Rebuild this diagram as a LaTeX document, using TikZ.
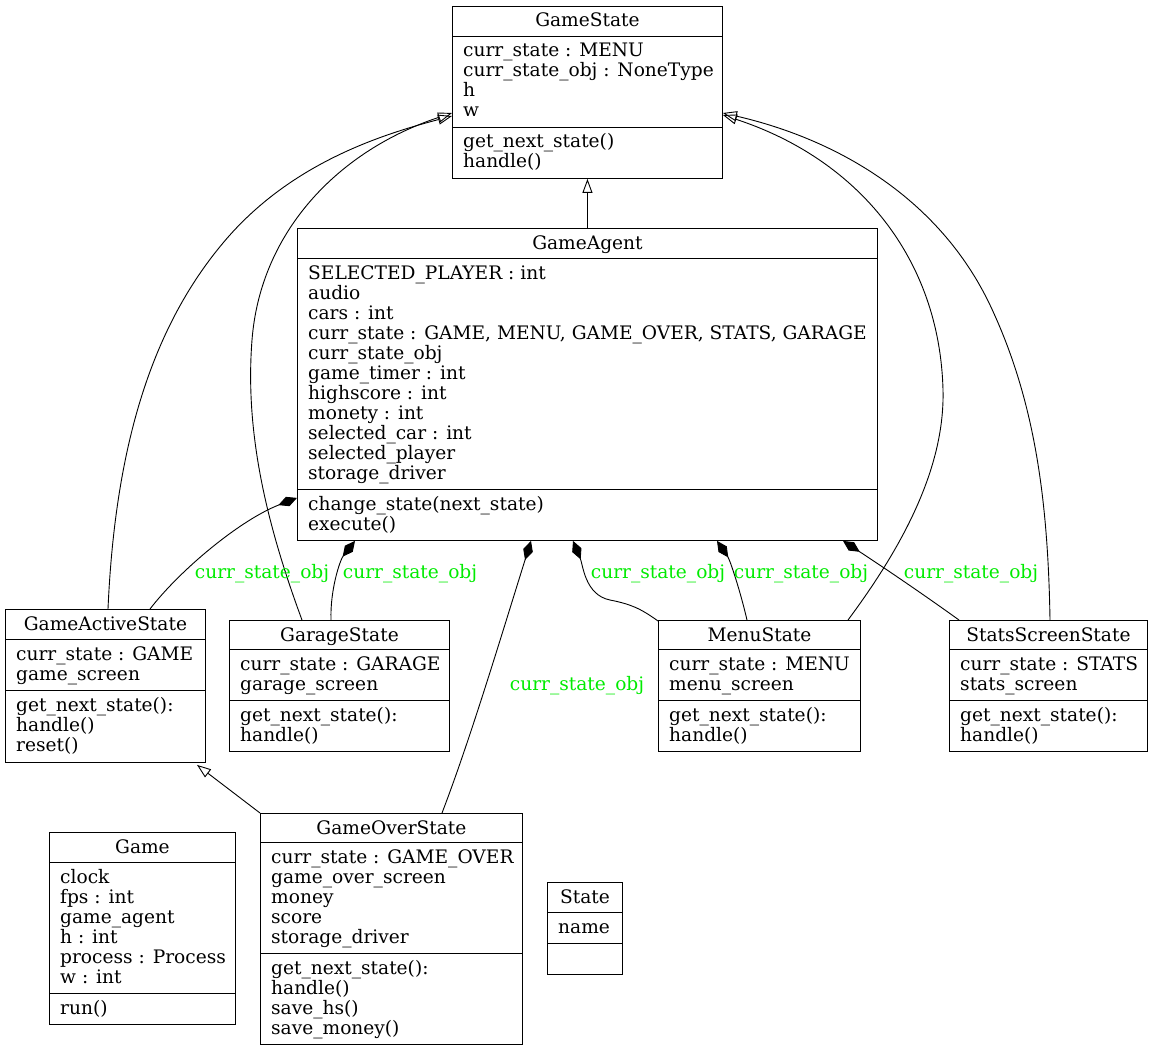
\documentclass[tikz,border=0pt]{standalone}
\usepackage{fontspec}
\setmainfont{DejaVu Serif}
\usetikzlibrary{calc,arrows.meta}
\definecolor{lblgreen}{RGB}{0,235,0}
\tikzset{
  box/.style={draw, line width=0.9pt, inner sep=0pt, anchor=north west},
  txt/.style={inner sep=0pt, font=\fontsize{18.6}{20}\selectfont},
  lbl/.style={inner sep=0pt, text=lblgreen, font=\fontsize{18.6}{20}\selectfont},
  edge/.style={line width=0.9pt},
  inherit/.style={edge, -{Triangle[open, length=14pt, width=10pt]}},
  compose/.style={edge, {Diamond[fill=black, length=20pt, width=10pt]}-},
}
% one class: name, title, first separator, second separator, attributes, methods
\newcommand\umlclass[6]{%
  \node[txt, anchor=base] (#1-t) at ($(#1.north)+(0,21)$) {#2};
  \draw[line width=0.9pt] ($(#1.north west)+(0,#3)$) -- ($(#1.north east)+(0,#3)$);
  \draw[line width=0.9pt] ($(#1.north west)+(0,#4)$) -- ($(#1.north east)+(0,#4)$);
  \foreach \t [count=\i] in {#5} {
    \node[txt, anchor=base west] (#1-a\i) at ($(#1.north west)+(11,#3+1+20*\i)$) {\t};
  }
  \foreach \t [count=\i] in {#6} {
    \node[txt, anchor=base west] (#1-m\i) at ($(#1.north west)+(11,#4+1+20*\i)$) {\t};
  }
}
\begin{document}
\begin{tikzpicture}[x=1pt, y=-1pt]
\useasboundingbox (0,0) rectangle (1153,1051);

% class boxes
\node[box, minimum width=270pt, minimum height=172pt] (gs) at (452,6) {};
\node[box, minimum width=580pt, minimum height=312pt] (ga) at (297,228) {};
\node[box, minimum width=200pt, minimum height=153pt] (gas) at (5,609) {};
\node[box, minimum width=220pt, minimum height=131pt] (grs) at (229,620) {};
\node[box, minimum width=202pt, minimum height=131pt] (ms) at (658,620) {};
\node[box, minimum width=198pt, minimum height=131pt] (sss) at (949,620) {};
\node[box, minimum width=262pt, minimum height=231pt] (gos) at (260,813) {};
\node[box, minimum width=186pt, minimum height=192pt] (g) at (49,832) {};
\node[box, minimum width=75pt, minimum height=92pt] (st) at (547,882) {};

\umlclass{gs}{GameState}{30}{121}
  {curr\_state : MENU, curr\_state\_obj : NoneType, h, w}
  {get\_next\_state(), handle()}
\umlclass{ga}{GameAgent}{30}{261}
  {SELECTED\_PLAYER : int, audio, cars : int,
   {curr\_state : GAME, MENU, GAME\_OVER, STATS, GARAGE},
   curr\_state\_obj, game\_timer : int, highscore : int, monety : int,
   selected\_car : int, selected\_player, storage\_driver}
  {change\_state(next\_state), execute()}
\umlclass{gas}{GameActiveState}{30}{81}
  {curr\_state : GAME, game\_screen}
  {get\_next\_state():, handle(), reset()}
\umlclass{grs}{GarageState}{29}{80}
  {curr\_state : GARAGE, garage\_screen}
  {get\_next\_state():, handle()}
\umlclass{ms}{MenuState}{29}{80}
  {curr\_state : MENU, menu\_screen}
  {get\_next\_state():, handle()}
\umlclass{sss}{StatsScreenState}{29}{80}
  {curr\_state : STATS, stats\_screen}
  {get\_next\_state():, handle()}
\umlclass{gos}{GameOverState}{29}{140}
  {curr\_state : GAME\_OVER, game\_over\_screen, money, score, storage\_driver}
  {get\_next\_state():, handle(), save\_hs(), save\_money()}
\umlclass{g}{Game}{30}{161}
  {clock, fps : int, game\_agent, h : int, process : Process, w : int}
  {run()}
\umlclass{st}{State}{30}{61}
  {name}
  {}

% inheritance
\draw[inherit] (ga.north) -- (gs.south);
\draw[inherit] ($(gas.north west)+(103,0)$) .. controls (115,450) and (150,330) .. (223,243)
  .. controls (289,164) and (380,135) .. ($(gs.north west)+(0,110)$);
\draw[inherit] ($(grs.north west)+(73,0)$) .. controls (265,520) and (245,430) .. (252,340)
  .. controls (260.6,230) and (340,150) .. ($(gs.north west)+(0,107)$);
\draw[inherit] ($(ms.north west)+(190,0)$) .. controls (900,550) and (945,470) .. (943,390)
  .. controls (939.75,260) and (860,160) .. ($(gs.north east)+(0,109)$);
\draw[inherit] ($(sss.north west)+(101,0)$) .. controls (1048,500) and (1035,400) .. (990,305)
  .. controls (940,200) and (840,140) .. ($(gs.north east)+(0,107)$);
\draw[inherit] (gos.north west) -- ($(gas.south west)+(192,2)$);

% composition of curr_state_obj
\draw[compose] ($(ga.south west)+(0,-43)$) .. controls (240,520) and (180,570) .. ($(gas.north west)+(145,0)$);
\draw[compose] ($(ga.south west)+(58,0)$) .. controls (340,560) and (330,590) .. ($(grs.north west)+(102,0)$);
\draw[compose] ($(ga.south west)+(234,0)$) .. controls (500,640) and (470,740) .. ($(gos.north west)+(182,0)$);
\draw[compose] ($(ga.south west)+(276,0)$) .. controls (583,565) and (585,595) .. (610,600) .. controls (630,604) and (640,608) .. ($(ms.north west)+(0,1)$);
\draw[compose] ($(ga.south west)+(420,0)$) .. controls (730,560) and (740,590) .. ($(ms.north west)+(89,0)$);
\draw[compose] ($(ga.south west)+(546,0)$) .. controls (880,565) and (920,592) .. ($(sss.north west)+(10,0)$);

% role labels
\node[lbl] (l1) at (262,574) {curr\_state\_obj};
\node[lbl] (l2) at (410,574) {curr\_state\_obj};
\node[lbl] (l3) at (577,686) {curr\_state\_obj};
\node[lbl] (l4) at (658,574) {curr\_state\_obj};
\node[lbl] (l5) at (801,574) {curr\_state\_obj};
\node[lbl] (l6) at (971,574) {curr\_state\_obj};
\end{tikzpicture}
\end{document}
